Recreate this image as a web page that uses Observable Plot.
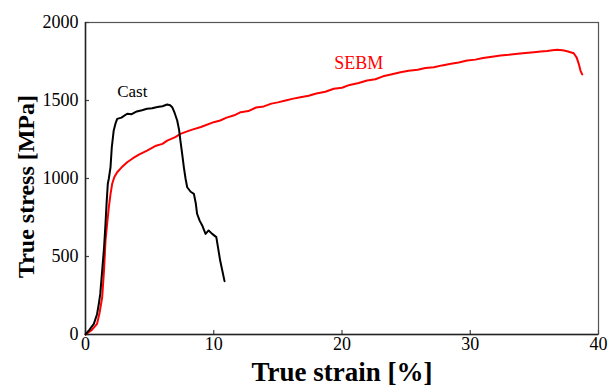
<!DOCTYPE html>
<html>
<head>
<meta charset="utf-8">
<script src="https://cdn.jsdelivr.net/npm/d3@7"></script>
<script src="https://cdn.jsdelivr.net/npm/@observablehq/plot@0.6"></script>
<style>
html, body { margin: 0; padding: 0; background: #fff; }
svg { display: block; }
</style>
</head>
<body>
<div id="chart"></div>
<script>
const castStrain = [0, 0.3, 0.65, 0.9, 1.04, 1.15, 1.3, 1.45, 1.56, 1.65, 1.74, 1.82, 1.95, 2.05, 2.2, 2.35, 2.47, 2.8, 3.25, 3.6, 4.0, 4.4, 4.8, 5.2, 5.6, 6.0, 6.37, 6.6, 6.76, 6.95, 7.15, 7.3, 7.4, 7.55, 7.67, 7.8, 7.93, 8.2, 8.45, 8.6, 8.7, 8.9, 9.1, 9.36, 9.6, 9.88, 10.2, 10.5, 10.84];
const castStress = [0, 30, 68, 130, 197, 260, 410, 560, 711, 850, 966, 1000, 1072, 1200, 1308, 1355, 1382, 1390, 1415, 1412, 1430, 1438, 1447, 1450, 1458, 1463, 1474, 1470, 1457, 1420, 1372, 1310, 1243, 1150, 1072, 1000, 944, 915, 902, 840, 774, 730, 699, 645, 667, 645, 624, 474, 342];

const sebmStrain = [0, 0.5, 0.9, 1.1, 1.3, 1.45, 1.56, 1.7, 1.82, 1.95, 2.08, 2.25, 2.47, 2.8, 3.25, 3.7, 4.2, 4.8, 5.5, 6.0, 6.37, 7.0, 7.4, 8.2, 9.0, 10.0, 10.5, 11.0, 11.6, 12.1, 12.7, 13.3, 13.9, 14.5, 15.0, 15.6, 16.2, 16.76, 17.4, 18.0, 18.7, 19.36, 20.0, 20.6, 21.3, 21.96, 22.6, 23.2, 23.9, 24.56, 25.2, 25.9, 26.5, 27.16, 27.8, 28.5, 29.1, 29.76, 30.4, 31.0, 31.7, 32.36, 33.0, 33.7, 34.3, 34.96, 35.5, 36.0, 36.4, 36.78, 37.2, 37.56, 38.07, 38.3, 38.46, 38.6, 38.73];
const sebmStress = [0, 30, 68, 140, 239, 420, 603, 720, 816, 900, 966, 1010, 1040, 1070, 1104, 1130, 1155, 1179, 1210, 1222, 1243, 1265, 1286, 1310, 1330, 1361, 1372, 1390, 1405, 1425, 1432, 1455, 1462, 1480, 1488, 1500, 1512, 1521, 1530, 1545, 1556, 1575, 1582, 1600, 1612, 1628, 1636, 1655, 1668, 1681, 1690, 1697, 1708, 1713, 1725, 1735, 1744, 1756, 1762, 1772, 1780, 1788, 1793, 1800, 1805, 1810, 1814, 1818, 1822, 1825, 1822, 1816, 1803, 1775, 1735, 1690, 1667];

const xTicks = [0, 10, 20, 30, 40];
const yTicks = [0, 500, 1000, 1500, 2000];
const seriesNames = ["Cast", "SEBM"];
const xTitle = "True strain [%]";
const yTitle = "True stress [MPa]";

const cast = castStrain.map((x, i) => ({x, y: castStress[i]}));
const sebm = sebmStrain.map((x, i) => ({x, y: sebmStress[i]}));

const font = "'Liberation Serif', 'Times New Roman', serif";

const chart = Plot.plot({
  width: 608,
  height: 390,
  marginLeft: 85,
  marginRight: 10,
  marginTop: 22,
  marginBottom: 56,
  style: {fontFamily: font, fontSize: "18px", color: "#000", background: "#fff"},
  x: {domain: [0, 40]},
  y: {domain: [0, 2000]},
  marks: [
    Plot.frame({stroke: "#555", strokeWidth: 1.2}),
    // tick labels
    Plot.axisX({ticks: xTicks, tickSize: 0, tickPadding: 3, tickFormat: d => String(d), fontSize: 18, label: null}),
    Plot.axisY({ticks: yTicks, tickSize: 0, tickPadding: 7, tickFormat: d => String(d), fontSize: 18, label: null}),
    // inward tick marks
    Plot.axisX({ticks: xTicks, tickSize: 4, dy: -4, text: null, label: null, stroke: "#444", strokeWidth: 1.2}),
    Plot.axisY({ticks: yTicks, tickSize: 4, dx: 4, text: null, label: null, stroke: "#444", strokeWidth: 1.2}),
    // axis titles
    Plot.axisX({ticks: [], label: xTitle, labelAnchor: "center", labelArrow: "none", labelOffset: 46, fontSize: 27, fontWeight: "bold"}),
    Plot.text([yTitle], {frameAnchor: "left", text: d => d, rotate: -90, dx: -59, dy: 8, lineAnchor: "middle", textAnchor: "middle", fontSize: 24, fontWeight: "bold", fill: "#000", fontFamily: font}),
    Plot.ruleY([0], {stroke: "#222", strokeWidth: 1.5}),
    Plot.ruleX([0], {stroke: "#222", strokeWidth: 1.5}),
    Plot.line(sebm, {x: "x", y: "y", stroke: "#ff0000", strokeWidth: 2}),
    Plot.line(cast, {x: "x", y: "y", stroke: "#000", strokeWidth: 2}),
    Plot.text([{x: 3.65, y: 1560, t: seriesNames[0]}], {x: "x", y: "y", text: "t", fill: "#000", fontSize: 17, fontFamily: font}),
    Plot.text([{x: 21.3, y: 1740, t: seriesNames[1]}], {x: "x", y: "y", text: "t", fill: "#ff0000", fontSize: 18, fontFamily: font})
  ]
});
document.getElementById("chart").appendChild(chart);
</script>
</body>
</html>
